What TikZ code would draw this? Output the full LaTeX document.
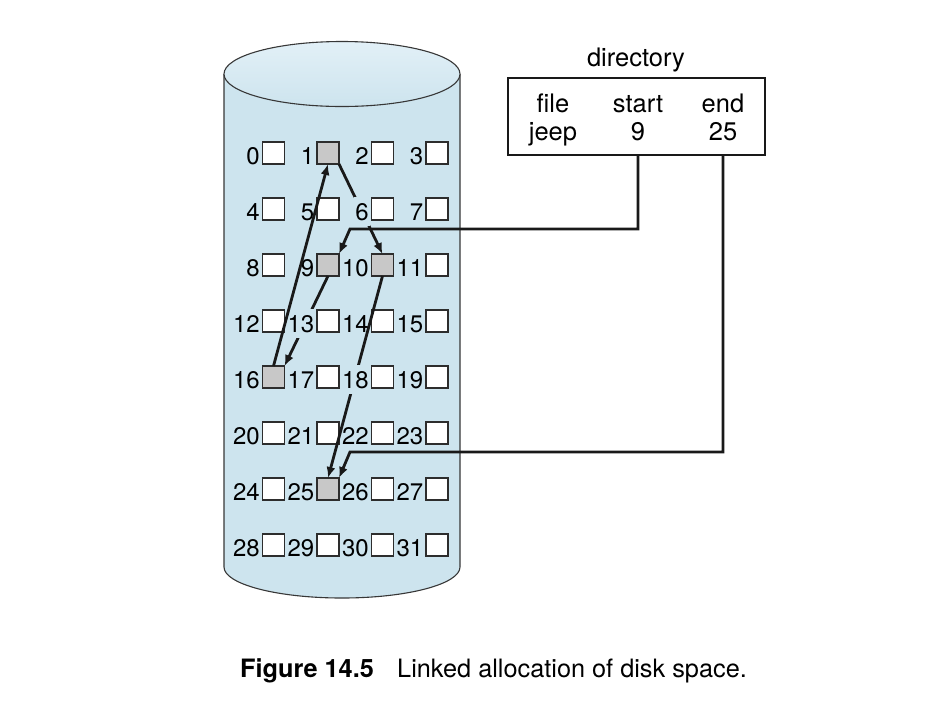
\documentclass[tikz,border=0pt]{standalone}
\usepackage{fontspec}
\setmainfont{TeX Gyre Heros}
\usetikzlibrary{arrows.meta}
\definecolor{cylfill}{RGB}{205,228,238}
\definecolor{cyltop}{RGB}{226,240,247}
\definecolor{cyledge}{RGB}{55,55,55}
\definecolor{usedfill}{RGB}{200,200,200}
\definecolor{sqedge}{RGB}{45,45,45}
\definecolor{linkcol}{RGB}{25,25,25}
\begin{document}
\begin{tikzpicture}[x=1pt,y=-1pt,
  cyl/.style={draw=cyledge, line width=1.1pt},
  blk/.style={draw=sqedge, line width=1.5pt, minimum size=22pt, inner sep=0pt, outer sep=0pt},
  digit/.style={font=\fontsize{24}{28}\selectfont, anchor=base east, inner xsep=1.5pt, inner ysep=6pt, text=black},
  link/.style={draw=linkcol, line width=2.8pt, -{Latex[length=11pt,width=9pt]}},
  dirtext/.style={font=\fontsize{25.5}{30}\selectfont, anchor=base, inner sep=0pt},
  dirbox/.style={draw=linkcol, line width=2.4pt, minimum width=257pt, minimum height=77pt, inner sep=0pt},
  captext/.style={font=\fontsize{25.3}{30}\selectfont, anchor=base west, inner sep=0pt}]
\useasboundingbox (0,0) rectangle (950,716);
% cylinder body
\path[fill=cylfill] (224,74) -- (224,567)
  .. controls (224,584.1) and (276.8,598) .. (342,598)
  .. controls (407.2,598) and (460,584.1) .. (460,567) -- (460,74) -- cycle;
\draw[cyl] (224,74) -- (224,567)
  .. controls (224,584.1) and (276.8,598) .. (342,598)
  .. controls (407.2,598) and (460,584.1) .. (460,567) -- (460,74);
\shade[top color=cyltop, bottom color=cylfill] (342,74) ellipse [x radius=118, y radius=32.5];
\draw[cyl] (342,74) ellipse [x radius=118, y radius=32.5];
% blocks
\foreach \n in {0,...,31}{
  \pgfmathtruncatemacro\r{int(\n/4)}
  \pgfmathtruncatemacro\c{mod(\n,4)}
  \pgfmathparse{(\n==1||\n==9||\n==10||\n==16||\n==25) ? "usedfill" : "white"}
  \let\fc\pgfmathresult
  \node[blk, fill=\fc] (s\n) at ({273.5+54.5*\c},{153+56*\r}) {};
}
% links that pass behind labels
\draw[link] (s1.south east) -- (s10.north);
\draw[link] (s10.south) -- (s25.north);
\draw[link] (s9.south) -- (s16.north east);
% labels
\foreach \n in {0,...,31}{
  \pgfmathparse{(\n==6||\n==13||\n==18) ? "cylfill" : "none"}
  \let\kf\pgfmathresult
  \node[digit, fill=\kf] (l\n) at ([xshift=-1pt]s\n.south west) {\n};
}
\draw[link] (s16.north) -- (s1.south);
% directory
\node[dirtext] (dirtitle) at (636,66) {directory};
\node[dirbox] (dir) at (636.5,116.5) {};
\node[dirtext] (tfile) at (553,112) {file};
\node[dirtext] (tstart) at (638,112) {start};
\node[dirtext] (tend) at (723,112) {end};
\node[dirtext] (tjeep) at (553,140) {jeep};
\node[dirtext] (t9) at (638,140) {9};
\node[dirtext] (t25) at (723,140) {25};
\coordinate (c9) at (350,229);
\coordinate (c25) at (350,452);
\draw[link] (dir.south -| t9) |- (c9) -- (s9.north east);
\draw[link] (dir.south -| t25) |- (c25) -- (s25.north east);
% caption
\node[captext, font=\fontsize{25.3}{30}\selectfont\bfseries] (capnum) at (240,677) {Figure 14.5};
\node[captext] (captxt) at (397,677) {Linked allocation of disk space.};
\end{tikzpicture}
\end{document}
